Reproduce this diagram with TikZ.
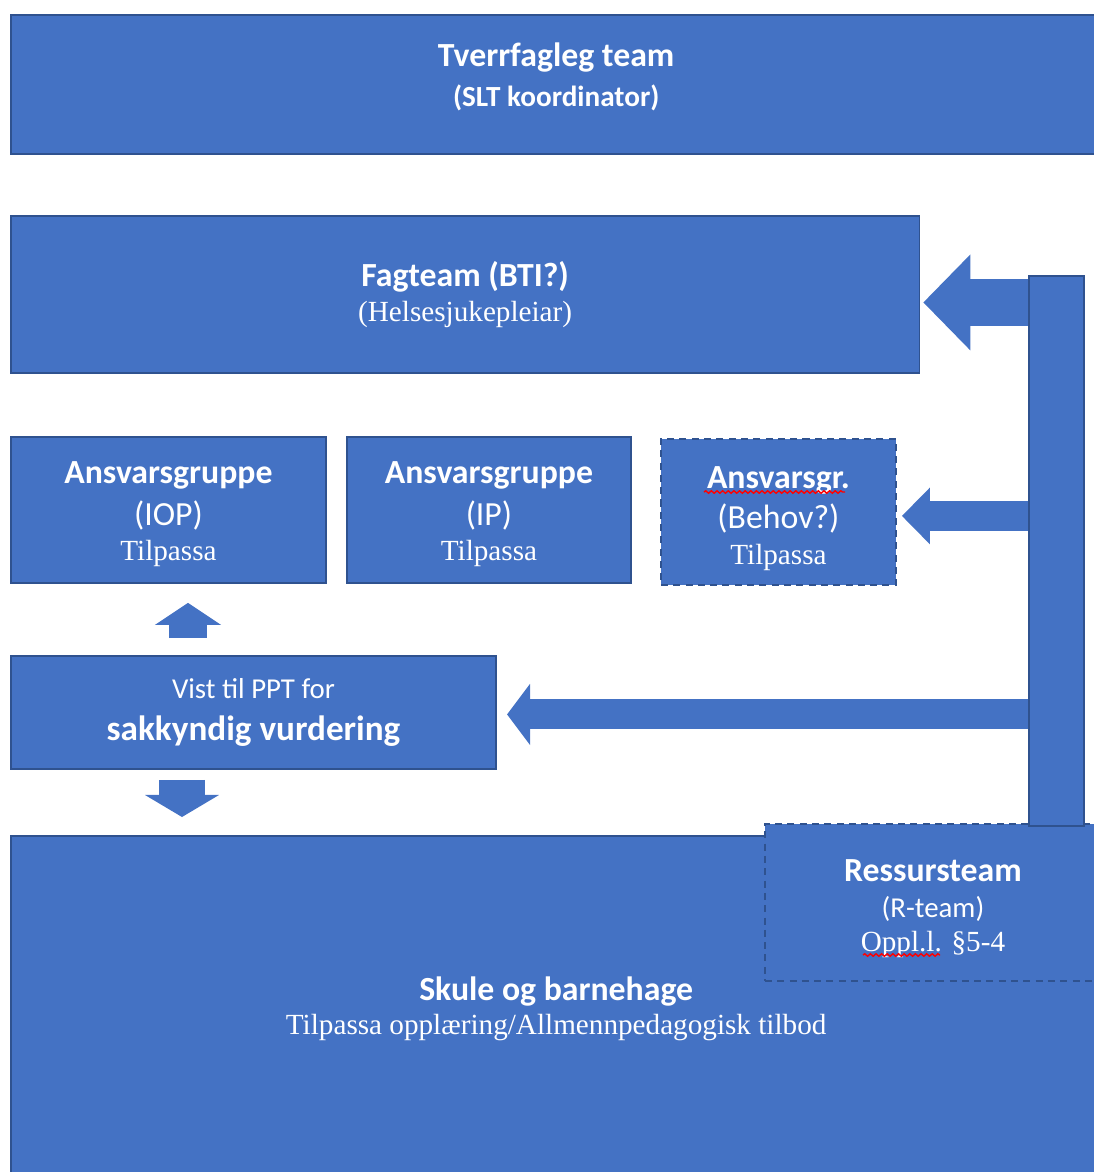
\documentclass[tikz,border=0pt]{standalone}
\usepackage{fontspec}
\setmainfont{Liberation Serif}
\setsansfont{Carlito}
\usetikzlibrary{calc, arrows.meta, decorations.pathmorphing}

\definecolor{boxblue}{HTML}{4472C4}
\definecolor{boxedge}{HTML}{2F528F}

\newcommand{\bsf}{\sffamily\bfseries\fontsize{9.6}{11.5}\selectfont}
\newcommand{\rsf}{\sffamily\fontsize{9.6}{11.5}\selectfont}
\newcommand{\ssf}{\sffamily\fontsize{8.2}{10}\selectfont}
\newcommand{\srm}{\rmfamily\fontsize{8.3}{10}\selectfont}

\tikzset{
  blk/.style={draw=boxedge, fill=boxblue, line width=0.5pt, text=white,
    anchor=north west, align=center, inner sep=0pt},
  dashblk/.style={blk, dash pattern=on 2pt off 1.5pt},
  fat/.style n args={3}{draw=boxblue, line width=#1,
    -{Triangle[width=#2, length=#3, fill=boxblue]}},
  squiggle/.style={red, line width=0.4pt, decorate,
    decoration={snake, amplitude=0.35pt, segment length=1.6pt}}
}

\begin{document}
\begin{tikzpicture}[x=0.01cm, y=-0.01cm]
  \useasboundingbox (0,0) rectangle (1093,1172);

  % top row
  \node[blk, minimum width=10.9cm, minimum height=1.39cm] (tverr) at (10,14)
    {\bsf Tverrfagleg team\\[-0.5pt]{\bsf\fontsize{8.3}{10}\selectfont (SLT koordinator)\rule[-5.5pt]{0pt}{0pt}}};
  \node[blk, minimum width=9.08cm, minimum height=1.57cm] (fag) at (10,215)
    {\bsf Fagteam (BTI?)\\[-2pt]{\srm (Helsesjukepleiar)}};

  % ansvarsgrupper
  \node[blk, minimum width=3.15cm, minimum height=1.46cm] (iop) at (10,436)
    {\bsf\rule{0pt}{8.5pt}Ansvarsgruppe\\[0pt]{\rsf (IOP)}\\[-2pt]{\srm Tilpassa}};
  \node[blk, minimum width=2.84cm, minimum height=1.46cm] (ip) at (346,436)
    {\bsf\rule{0pt}{8.5pt}Ansvarsgruppe\\[0pt]{\rsf (IP)}\\[-2pt]{\srm Tilpassa}};
  \node[dashblk, minimum width=2.35cm, minimum height=1.46cm] (beh) at (660,438)
    {\bsf\rule{0pt}{10.2pt}Ansvarsgr.\\[-0.7pt]{\rsf (Behov?)}\\[-1.7pt]{\srm Tilpassa}};

  \node[blk, minimum width=4.85cm, minimum height=1.13cm] (vist) at (10,655)
    {\ssf Vist til PPT for\\[0pt]{\bsf\fontsize{10}{12}\selectfont sakkyndig vurdering}};

  % bottom
  \node[blk, minimum width=10.9cm, minimum height=3.45cm] (skule) at (10,835)
    {\bsf Skule og barnehage\\[-2.3pt]{\srm Tilpassa opplæring/Allmennpedagogisk tilbod}};
  \node[dashblk, minimum width=3.36cm, minimum height=1.57cm] (ress) at (764,823)
    {\bsf\rule{0pt}{9.6pt}Ressursteam\\[-1.5pt]{\ssf (R-team)}\\[-2.5pt]{\srm Oppl.l. §5-4}};
  \node[blk, minimum width=0.55cm, minimum height=5.5cm] (bar) at (1028,275) {};

  % block arrows
  \coordinate (ftip) at ($(fag.east)+(3,8)$);
  \coordinate (btip) at ($(beh.east)+(5,4)$);
  \coordinate (vtip) at ($(vist.east)+(10,2)$);
  \draw[fat={0.47cm}{0.93cm}{0.47cm}] (bar.west |- ftip) -- (ftip);
  \draw[fat={0.30cm}{0.55cm}{0.28cm}] (bar.west |- btip) -- (btip);
  \draw[fat={0.30cm}{0.60cm}{0.23cm}] (bar.west |- vtip) -- (vtip);
  \draw[fat={0.37cm}{0.65cm}{0.22cm}] ($(vist.north west)+(178,-17)$) -- ($(iop.south west)+(178,19)$);
  \draw[fat={0.45cm}{0.73cm}{0.22cm}] ($(vist.south west)+(172,10)$) -- ($(skule.north west)+(172,-18)$);

  % spell-check marks
  \draw[squiggle] ($(beh.north west)+(44,54)$) -- ($(beh.north west)+(185,54)$);
  \draw[squiggle] ($(ress.north west)+(99,132)$) -- ($(ress.north west)+(176,132)$);
\end{tikzpicture}
\end{document}
